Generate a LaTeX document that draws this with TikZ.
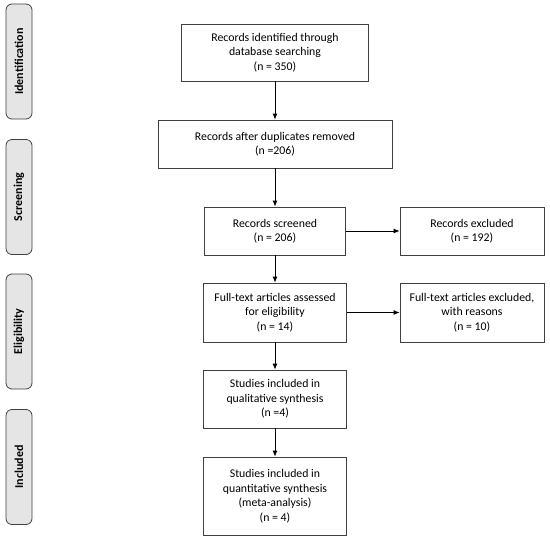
\documentclass[tikz,border=0pt]{standalone}
\usepackage{fontspec}
\setmainfont{Carlito}
\usetikzlibrary{arrows.meta}

\newlength{\du}
\setlength{\du}{1pt}

\tikzset{
  flowbox/.style={draw=black!75, line width=0.8pt, align=center, inner sep=0pt,
    font=\fontsize{11.8}{14.5}\selectfont},
  phasebox/.style={draw=black!75, fill=black!10, line width=0.8pt, rounded corners=6pt,
    rotate=90, minimum width=115\du, minimum height=26\du, inner sep=0pt,
    font=\bfseries\fontsize{12}{13}\selectfont},
  flowarrow/.style={draw=black, line width=0.8pt, -{Latex[length=6pt,width=5pt]}}
}

\begin{document}
\begin{tikzpicture}
\pgftransformyscale{-1.000000}
\useasboundingbox (0\du,0\du) rectangle (550\du,539\du);

% phases
\node[phasebox] (ident) at (19\du,61.5\du) {Identification};
\node[phasebox] (screen) at (19\du,197\du) {Screening};
\node[phasebox] (elig) at (19\du,331.5\du) {Eligibility};
\node[phasebox] (incl) at (19\du,467\du) {Included};

% main column
\node[flowbox, minimum width=187\du, minimum height=57\du] (found) at (275\du,52.5\du)
  {Records identified through\\database searching\\(n = 350)};
\node[flowbox, minimum width=234\du, minimum height=48\du] (dedup) at (275\du,144\du)
  {Records after duplicates removed\\(n =206)};
\node[flowbox, minimum width=141\du, minimum height=48\du] (screened) at (275\du,231\du)
  {Records screened\\(n = 206)};
\node[flowbox, minimum width=143\du, minimum height=59\du] (fulltext) at (275\du,312.5\du)
  {Full-text articles assessed\\for eligibility\\(n = 14)};
\node[flowbox, minimum width=143\du, minimum height=58\du] (quali) at (275\du,399\du)
  {Studies included in\\qualitative synthesis\\(n =4)};
\node[flowbox, minimum width=143\du, minimum height=78\du] (quanti) at (275\du,496\du)
  {Studies included in\\quantitative synthesis\\(meta-analysis)\\(n = 4)};

% side column
\node[flowbox, minimum width=144\du, minimum height=48\du] (excl) at (472\du,231\du)
  {Records excluded\\(n = 192)};
\node[flowbox, minimum width=144\du, minimum height=59\du] (ftexcl) at (472\du,312.5\du)
  {Full-text articles excluded,\\with reasons\\(n = 10)};

% arrows
\draw[flowarrow] (found) -- (dedup);
\draw[flowarrow] (dedup) -- (screened);
\draw[flowarrow] (screened) -- (fulltext);
\draw[flowarrow] (fulltext) -- (quali);
\draw[flowarrow] (quali) -- (quanti);
\draw[flowarrow] (screened) -- (excl);
\draw[flowarrow] (fulltext) -- (ftexcl);
\end{tikzpicture}
\end{document}
